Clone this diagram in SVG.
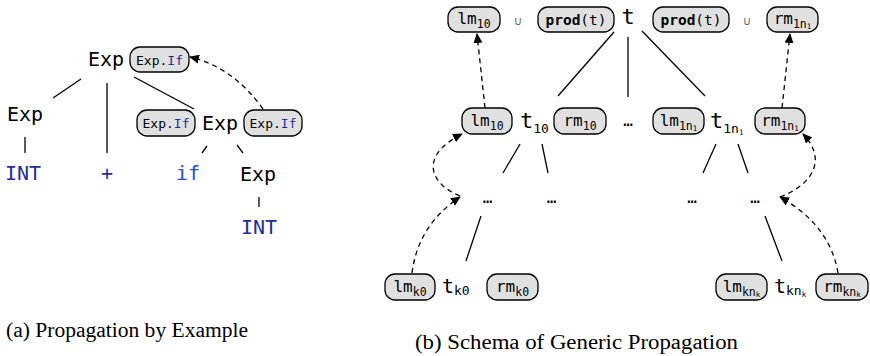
<svg xmlns="http://www.w3.org/2000/svg" width="870" height="356" viewBox="0 0 870 356">
<style>
.mono{font-family:"DejaVu Sans Mono","Liberation Mono",monospace;fill:#000}
.big{font-size:20px}
.tt{font-size:22px}
.bt{font-size:16px}
.et{font-size:13px}
.pt{font-size:14.5px}
.sub{font-size:11.5px}
.ss{font-size:7.5px}
.bsub{font-size:13px}
.badge{fill:#e0e0e0;stroke:#000;stroke-width:1.3}
.kw{fill:#1f2d9e}
.kw2{fill:#2447e8}
.ln{stroke:#000;stroke-width:1.3;fill:none}
.dash{stroke:#000;stroke-width:1.3;fill:none;stroke-dasharray:5,4}
.cup{font-family:"DejaVu Sans",sans-serif;font-size:12px;fill:#666}
.cap{font-family:"Liberation Serif",serif;font-size:20px;fill:#000}
</style>
<defs>
<marker id="ah" viewBox="0 0 10 10" refX="9" refY="5" markerWidth="10" markerHeight="10" markerUnits="userSpaceOnUse" orient="auto">
<path d="M0,0.5 L10,5 L0,9.5 Z" fill="#000"/>
</marker>
</defs>

<!-- (a) Propagation by Example -->
<g id="connectors-a">
<line class="ln" x1="81" y1="79" x2="53" y2="98"/>
<line class="ln" x1="107" y1="83" x2="107" y2="153"/>
<line class="ln" x1="134" y1="77" x2="194" y2="109"/>
<line class="ln" x1="25" y1="137" x2="25" y2="153"/>
<line class="ln" x1="207" y1="146" x2="202" y2="153"/>
<line class="ln" x1="237" y1="145" x2="243" y2="153"/>
<line class="ln" x1="259" y1="197" x2="259" y2="207"/>
<path class="dash" d="M263,109 Q233,67 190,57" marker-end="url(#ah)"/>
</g>
<g id="a-exp-root">
<text class="mono big" x="88" y="66">Exp</text>
<rect class="badge" x="130" y="47" width="59" height="25" rx="10"/>
<text class="mono et" x="159.5" y="64.5" text-anchor="middle">Exp.<tspan class="kw">If</tspan></text>
</g>
<g id="a-exp-left"><text class="mono big" x="7" y="121">Exp</text></g>
<g id="a-int-left"><text class="mono big kw" x="5" y="180">INT</text></g>
<g id="a-plus"><text class="mono big kw" x="107" y="180" text-anchor="middle">+</text></g>
<g id="a-exp-mid">
<rect class="badge" x="137" y="110" width="58" height="26" rx="10"/>
<text class="mono et" x="166" y="128" text-anchor="middle">Exp.<tspan class="kw">If</tspan></text>
<text class="mono big" x="202" y="130">Exp</text>
<rect class="badge" x="244" y="110" width="58" height="26" rx="10"/>
<text class="mono et" x="273" y="128" text-anchor="middle">Exp.<tspan class="kw">If</tspan></text>
</g>
<g id="a-if"><text class="mono big kw2" x="188" y="180" text-anchor="middle">if</text></g>
<g id="a-exp-low"><text class="mono big" x="240" y="181">Exp</text></g>
<g id="a-int-low"><text class="mono big kw" x="241" y="234">INT</text></g>

<!-- (b) Schema of Generic Propagation -->
<g id="connectors-b">
<line class="ln" x1="614" y1="32" x2="558" y2="96"/>
<line class="ln" x1="628" y1="37" x2="628" y2="97"/>
<line class="ln" x1="642" y1="31" x2="705" y2="96"/>
<line class="ln" x1="520" y1="144" x2="503" y2="173"/>
<line class="ln" x1="542" y1="144" x2="548" y2="173"/>
<line class="ln" x1="716" y1="144" x2="703" y2="173"/>
<line class="ln" x1="738" y1="144" x2="748" y2="173"/>
<line class="ln" x1="481" y1="216" x2="466" y2="261"/>
<line class="ln" x1="765" y1="216" x2="782" y2="261"/>
<path class="dash" d="M485,108 L477,34" marker-end="url(#ah)"/>
<path class="dash" d="M782,108 L790,34" marker-end="url(#ah)"/>
<path class="dash" d="M412,273 Q418,225 460,197" marker-end="url(#ah)"/>
<path class="dash" d="M460,196 C428,183 420,155 462,134" marker-end="url(#ah)"/>
<path class="dash" d="M838,273 Q830,225 780,197" marker-end="url(#ah)"/>
<path class="dash" d="M780,197 C812,185 828,160 803,134" marker-end="url(#ah)"/>
</g>
<g id="b-root">
<rect class="badge" x="448" y="7" width="52" height="25" rx="10"/>
<text class="mono bt" x="474" y="24" text-anchor="middle">lm<tspan class="sub" dy="4">10</tspan></text>
<text class="cup" x="518" y="25" text-anchor="middle">∪</text>
<rect class="badge" x="538" y="7" width="76" height="25" rx="10"/>
<text class="mono pt" x="576" y="24.5" text-anchor="middle"><tspan font-weight="bold">prod</tspan>(t)</text>
<text class="mono tt" x="628" y="24" text-anchor="middle">t</text>
<rect class="badge" x="653" y="7" width="76" height="25" rx="10"/>
<text class="mono pt" x="691" y="24.5" text-anchor="middle"><tspan font-weight="bold">prod</tspan>(t)</text>
<text class="cup" x="747" y="25" text-anchor="middle">∪</text>
<rect class="badge" x="767" y="7" width="51" height="25" rx="10"/>
<text class="mono bt" x="792.5" y="24" text-anchor="middle">rm<tspan class="sub" dy="4">1n</tspan><tspan class="ss" dy="1">1</tspan></text>
</g>
<g id="b-t10">
<rect class="badge" x="462" y="108" width="50" height="26" rx="10"/>
<text class="mono bt" x="487" y="125.5" text-anchor="middle">lm<tspan class="sub" dy="4">10</tspan></text>
<text class="mono tt" x="520" y="128">t<tspan class="bsub" dy="5">10</tspan></text>
<rect class="badge" x="554" y="108" width="52" height="26" rx="10"/>
<text class="mono bt" x="580" y="125.5" text-anchor="middle">rm<tspan class="sub" dy="4">10</tspan></text>
</g>
<g id="b-dots-mid"><text class="mono bt" x="628" y="126" text-anchor="middle">…</text></g>
<g id="b-t1n1">
<rect class="badge" x="653" y="108" width="51" height="26" rx="10"/>
<text class="mono bt" x="678.5" y="125.5" text-anchor="middle">lm<tspan class="sub" dy="4">1n</tspan><tspan class="ss" dy="1">1</tspan></text>
<text class="mono tt" x="710" y="128">t<tspan class="bsub" dy="5">1n</tspan><tspan class="ss" dy="2">1</tspan></text>
<rect class="badge" x="755" y="108" width="50" height="26" rx="10"/>
<text class="mono bt" x="780" y="125.5" text-anchor="middle">rm<tspan class="sub" dy="4">1n</tspan><tspan class="ss" dy="1">1</tspan></text>
</g>
<g id="b-dots-1"><text class="mono bt" x="487.5" y="203" text-anchor="middle">…</text></g>
<g id="b-dots-2"><text class="mono bt" x="551.5" y="203" text-anchor="middle">…</text></g>
<g id="b-dots-3"><text class="mono bt" x="692" y="203" text-anchor="middle">…</text></g>
<g id="b-dots-4"><text class="mono bt" x="755" y="203" text-anchor="middle">…</text></g>
<g id="b-tk0">
<rect class="badge" x="385" y="274" width="50" height="26" rx="10"/>
<text class="mono bt" x="410" y="291.5" text-anchor="middle">lm<tspan class="sub" dy="4">k0</tspan></text>
<text class="mono big" x="442" y="293">t<tspan class="bsub" dy="2">k0</tspan></text>
<rect class="badge" x="487" y="274" width="51" height="26" rx="10"/>
<text class="mono bt" x="512.5" y="291.5" text-anchor="middle">rm<tspan class="sub" dy="4">k0</tspan></text>
</g>
<g id="b-tknk">
<rect class="badge" x="716" y="274" width="51" height="26" rx="10"/>
<text class="mono bt" x="741.5" y="291.5" text-anchor="middle">lm<tspan class="sub" dy="4">kn</tspan><tspan class="ss" dy="1">k</tspan></text>
<text class="mono big" x="774" y="293">t<tspan class="bsub" dy="2">kn</tspan><tspan class="ss" dy="2">k</tspan></text>
<rect class="badge" x="816" y="274" width="52" height="26" rx="10"/>
<text class="mono bt" x="842" y="291.5" text-anchor="middle">rm<tspan class="sub" dy="4">kn</tspan><tspan class="ss" dy="1">k</tspan></text>
</g>

<g id="captions">
<text class="cap" x="6" y="337" textLength="242" lengthAdjust="spacingAndGlyphs">(a) Propagation by Example</text>
<text class="cap" x="415" y="349" textLength="323" lengthAdjust="spacingAndGlyphs">(b) Schema of Generic Propagation</text>
</g>
</svg>
